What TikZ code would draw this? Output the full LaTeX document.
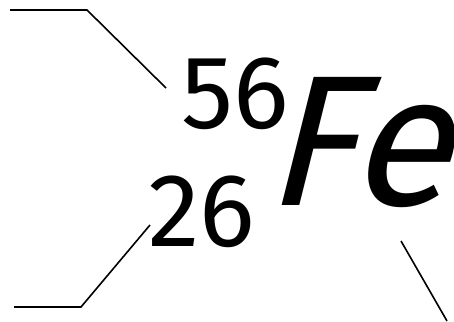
\documentclass[tikz,border=0pt]{standalone}
\usepackage{fontspec}
\setmainfont{Fira Sans}
\newfontfamily\fefont[FakeSlant=0.25]{Fira Sans}
\begin{document}
\begin{tikzpicture}[x=1pt,y=-1pt,
  lbl/.style={inner sep=0pt,anchor=base west},
  lead/.style={line width=1.6pt}]
\useasboundingbox (0,0) rectangle (454,321);
\clip (0,0) rectangle (454,321);
\node[lbl,font=\fontsize{104}{104}\selectfont] (mass) at (181,128) {56};
\node[lbl,font=\fontsize{104}{104}\selectfont] (num) at (148,246) {26};
\node[lbl,font=\fefont\fontsize{186}{186}\selectfont] (el) at (263,205) {Fe};
\coordinate (a0) at (10,10);
\coordinate (a1) at (87,10);
\coordinate (a2) at (166,88);
\coordinate (b0) at (14,307);
\coordinate (b1) at (81,307);
\coordinate (b2) at (150,225);
\coordinate (c0) at (401,241);
\coordinate (c1) at (447,321);
\draw[lead] (a0) -- (a1) -- (a2);
\draw[lead] (b0) -- (b1) -- (b2);
\draw[lead] (c0) -- (c1);
\end{tikzpicture}
\end{document}
